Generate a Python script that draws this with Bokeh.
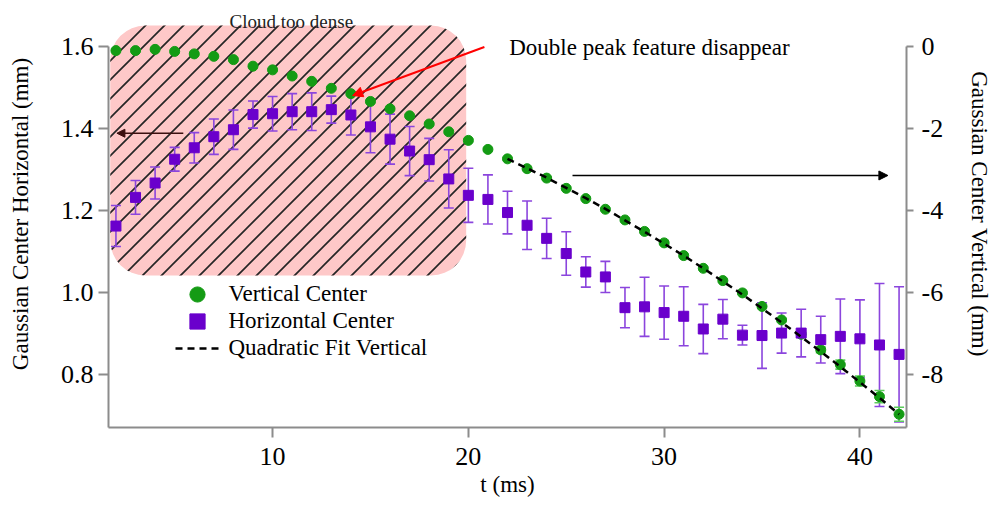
import base64
from bokeh.plotting import figure
from bokeh.models import (Range1d, LinearAxis, FixedTicker, Whisker, TeeHead, BoxAnnotation,
                          Arrow, NormalHead, Label, ColumnDataSource, Legend, LegendItem,
                          PrintfTickFormatter, ImageURLTexture)
from bokeh.embed import file_html
from bokeh.resources import INLINE

# ---------------- data ----------------
t = list(range(2, 43))

vertical = [-0.10, -0.10, -0.07, -0.12, -0.18, -0.24, -0.32, -0.48, -0.57, -0.72,
            -0.85, -1.02, -1.15, -1.34, -1.52, -1.69, -1.89, -2.08, -2.29, -2.51,
            -2.74, -2.98, -3.21, -3.46, -3.71, -3.97, -4.23, -4.51, -4.79, -5.10,
            -5.41, -5.71, -6.01, -6.34, -6.67, -7.02, -7.40, -7.76, -8.16, -8.54,
            -8.97]
vertical_err = [0.03, 0.03, 0.03, 0.03, 0.03, 0.03, 0.03, 0.03, 0.03, 0.03,
                0.03, 0.03, 0.03, 0.03, 0.03, 0.03, 0.03, 0.03, 0.03, 0.03,
                0.03, 0.03, 0.03, 0.03, 0.03, 0.03, 0.03, 0.03, 0.03, 0.03,
                0.03, 0.03, 0.03, 0.03, 0.04, 0.05, 0.07, 0.11, 0.12, 0.15,
                0.17]

horizontal = [1.162, 1.232, 1.267, 1.325, 1.353, 1.380, 1.397, 1.434, 1.436, 1.441,
              1.441, 1.446, 1.433, 1.404, 1.374, 1.345, 1.324, 1.277, 1.237, 1.227,
              1.195, 1.164, 1.132, 1.095, 1.050, 1.038, 0.963, 0.965, 0.951, 0.942,
              0.911, 0.935, 0.896, 0.895, 0.901, 0.901, 0.885, 0.893, 0.887, 0.872,
              0.849]
horizontal_err = [0.050, 0.041, 0.039, 0.029, 0.037, 0.043, 0.048, 0.033, 0.042, 0.044,
                  0.046, 0.033, 0.049, 0.063, 0.061, 0.060, 0.052, 0.071, 0.066, 0.060,
                  0.052, 0.059, 0.049, 0.053, 0.037, 0.038, 0.049, 0.072, 0.065, 0.072,
                  0.060, 0.048, 0.024, 0.080, 0.049, 0.058, 0.057, 0.091, 0.095, 0.150,
                  0.165]

fit_t = list(range(22, 43))
fit_vertical = [-2.74, -2.97, -3.20, -3.45, -3.70, -3.96, -4.24, -4.52, -4.81, -5.10,
                -5.41, -5.73, -6.05, -6.39, -6.73, -7.08, -7.44, -7.81, -8.19, -8.57,
                -8.97]

x_ticks = [10, 20, 30, 40]
left_ticks = [0.8, 1.0, 1.2, 1.4, 1.6]
right_ticks = [-8, -6, -4, -2, 0]

series_labels = ["Vertical Center", "Horizontal Center", "Quadratic Fit Vertical"]

# ---------------- styling ----------------
FONT = "Liberation Serif"
GREEN = "#149b14"
GREEN_ERR = "#5ccc5c"
PURPLE = "#6a00cc"
PURPLE_ERR = "#8b45dd"
AXIS_GREY = "#8c8c8c"

# 45-degree hatch tile (about 19 px between lines), used as a texture
tile_svg = ("<svg xmlns='http://www.w3.org/2000/svg' width='19' height='19'>"
            "<path d='M0,19 L19,0 M-3,3 L3,-3 M16,22 L22,16' stroke='#262626' "
            "stroke-width='1.7' fill='none'/></svg>")
tile_url = "data:image/svg+xml;base64," + base64.b64encode(tile_svg.encode()).decode()

src = ColumnDataSource(dict(
    t=t,
    vertical=vertical,
    v_up=[v + e for v, e in zip(vertical, vertical_err)],
    v_lo=[v - e for v, e in zip(vertical, vertical_err)],
    horizontal=horizontal,
    h_up=[h + e for h, e in zip(horizontal, horizontal_err)],
    h_lo=[h - e for h, e in zip(horizontal, horizontal_err)],
))

p = figure(width=995, height=510, output_backend="svg", toolbar_location=None,
           x_range=Range1d(1.62, 42.38), y_range=Range1d(0.6707, 1.7122),
           min_border_left=108, min_border_right=87, min_border_top=0, min_border_bottom=83)
p.extra_y_ranges = {"right": Range1d(-9.293, 1.122)}
p.outline_line_color = None
p.grid.visible = False
p.background_fill_color = "white"
p.border_fill_color = "white"

right_axis = LinearAxis(y_range_name="right")
p.add_layout(right_axis, "right")

for ax in [p.xaxis[0], p.yaxis[0], right_axis]:
    ax.axis_line_color = AXIS_GREY
    ax.axis_line_width = 2
    ax.major_tick_line_color = AXIS_GREY
    ax.major_tick_line_width = 2
    ax.major_tick_out = 10
    ax.major_tick_in = 0
    ax.minor_tick_line_color = None
    ax.major_label_text_font = FONT
    ax.major_label_text_font_size = "26px"
    ax.major_label_text_color = "black"
    ax.axis_label_text_font = FONT
    ax.axis_label_text_font_size = "23px"
    ax.axis_label_text_font_style = "normal"
    ax.axis_label_text_color = "black"

p.xaxis[0].ticker = FixedTicker(ticks=x_ticks)
p.xaxis[0].axis_label = "t (ms)"
p.xaxis[0].major_label_standoff = 10
p.xaxis[0].axis_label_standoff = 4

p.yaxis[0].ticker = FixedTicker(ticks=left_ticks)
p.yaxis[0].formatter = PrintfTickFormatter(format="%.1f")
p.yaxis[0].axis_label = "Gaussian Center Horizontal (mm)"
p.yaxis[0].bounds = (0.6707, 1.6)
p.yaxis[0].major_label_standoff = 5
p.yaxis[0].axis_label_standoff = 25

right_axis.ticker = FixedTicker(ticks=right_ticks)
right_axis.formatter = PrintfTickFormatter(format="%d")
right_axis.axis_label = "Gaussian Center Vertical (mm)"
right_axis.bounds = (-9.293, 0)
right_axis.major_tick_out = 7
right_axis.major_label_standoff = 8
right_axis.axis_label_standoff = 21

# shaded "cloud too dense" region
box = BoxAnnotation(left=1.71, right=19.89, bottom=1.0415, top=1.651,
                    fill_color="#fec8c8", fill_alpha=1.0, line_color=None,
                    hatch_pattern="diag45",
                    hatch_extra={"diag45": ImageURLTexture(url=tile_url, repetition="repeat")},
                    border_radius=35, level="image")
p.add_layout(box)

# error bars
w_h = Whisker(base="t", upper="h_up", lower="h_lo", source=src, dimension="height",
              line_color=PURPLE_ERR, line_width=1.6,
              upper_head=TeeHead(size=10, line_color=PURPLE_ERR, line_width=1.6),
              lower_head=TeeHead(size=10, line_color=PURPLE_ERR, line_width=1.6),
              level="underlay")
w_v = Whisker(base="t", upper="v_up", lower="v_lo", source=src, dimension="height",
              y_range_name="right", line_color=GREEN_ERR, line_width=1.6,
              upper_head=TeeHead(size=10, line_color=GREEN_ERR, line_width=1.6),
              lower_head=TeeHead(size=10, line_color=GREEN_ERR, line_width=1.6),
              level="underlay")
p.add_layout(w_h)
p.add_layout(w_v)

r_v = p.scatter("t", "vertical", source=src, y_range_name="right", marker="circle",
                size=10, fill_color=GREEN, line_color=GREEN)
r_h = p.scatter("t", "horizontal", source=src, marker="square",
                size=10, fill_color=PURPLE, line_color=PURPLE)
r_fit = p.line(fit_t, fit_vertical, y_range_name="right", line_color="black",
               line_width=2.5, line_dash="7 5")

# arrows
p.add_layout(Arrow(x_start=20.82, y_start=1.5988, x_end=14.09, y_end=1.4805,
                   line_color="red", line_width=2,
                   end=NormalHead(size=10, fill_color="red", line_color="red", line_width=1)))
p.add_layout(Arrow(x_start=5.44, y_start=1.3885, x_end=2.05, y_end=1.3885,
                   line_color="#3b0f0f", line_width=1.5,
                   end=NormalHead(size=8, fill_color="#3b0f0f", line_color="#3b0f0f", line_width=1)))
p.add_layout(Arrow(x_start=25.32, y_start=1.2854, x_end=41.43, y_end=1.2854,
                   line_color="black", line_width=1.5,
                   end=NormalHead(size=9, fill_color="black", line_color="black", line_width=1)))

# texts
p.add_layout(Label(x=10.96, y=1.6600, text="Cloud too dense", text_align="center",
                   text_baseline="alphabetic", text_font=FONT, text_font_size="19px",
                   text_color="#222222"))
p.add_layout(Label(x=22.09, y=1.5976, text="Double peak feature disappear",
                   text_align="left", text_baseline="alphabetic", text_font=FONT,
                   text_font_size="23px", text_color="black"))

# legend: one entry per Legend so the row pitch can be tighter than the glyph box
legend_rows = [(series_labels[0], r_v, 114), (series_labels[1], r_h, 87),
               (series_labels[2], r_fit, 60)]
for label, rend, ypos in legend_rows:
    lg = Legend(items=[LegendItem(label=label, renderers=[rend])],
                location=(67.4, ypos), glyph_width=44, glyph_height=38,
                label_standoff=9, padding=0, margin=0, border_line_color=None,
                background_fill_alpha=0, label_text_font=FONT,
                label_text_font_size="23px", label_text_color="black")
    p.add_layout(lg)

open("out.html", "w").write(file_html(p, INLINE))
